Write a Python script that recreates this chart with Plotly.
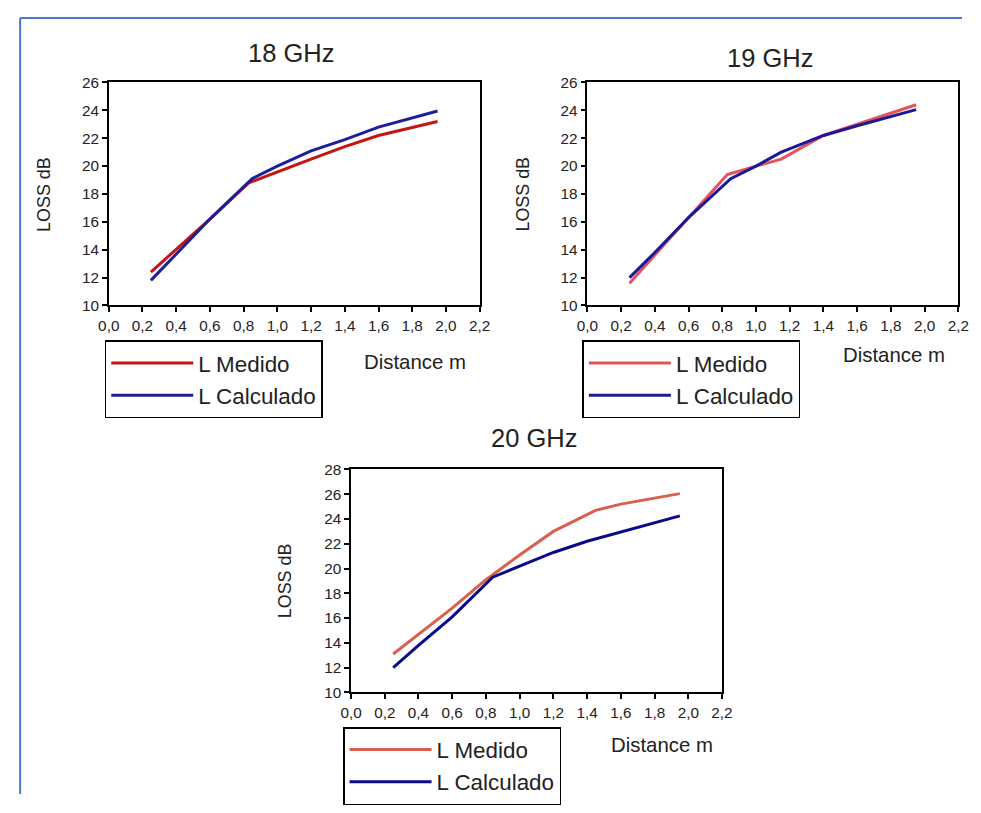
import plotly.graph_objects as go

# The photographed page maps paper pixels to screen pixels as
# screen = O + S * paper ; targets below are given in screen pixels.
OX, OY, SX, SY = 17.0, 16.5, 0.98, 0.975
W, H = 965, 797

# ---------------- data ----------------
x18_med = [0.25, 0.40, 0.60, 0.83, 1.00, 1.20, 1.40, 1.60, 1.95]
y18_med = [12.4, 14.0, 16.2, 18.8, 19.6, 20.5, 21.4, 22.2, 23.2]
x18_calc = [0.25, 0.40, 0.60, 0.85, 1.00, 1.20, 1.40, 1.60, 1.95]
y18_calc = [11.8, 13.7, 16.2, 19.1, 20.0, 21.1, 21.9, 22.8, 23.95]

x19_med = [0.25, 0.40, 0.60, 0.83, 1.00, 1.15, 1.40, 1.60, 1.95]
y19_med = [11.6, 13.6, 16.3, 19.4, 20.0, 20.5, 22.2, 23.0, 24.4]
x19_calc = [0.25, 0.40, 0.60, 0.85, 1.00, 1.15, 1.40, 1.60, 1.95]
y19_calc = [12.0, 13.8, 16.3, 19.1, 20.0, 21.0, 22.2, 22.9, 24.05]

x20_med = [0.25, 0.40, 0.60, 0.80, 1.00, 1.20, 1.45, 1.60, 1.95]
y20_med = [13.1, 14.7, 16.8, 19.1, 21.1, 23.0, 24.7, 25.2, 26.05]
x20_calc = [0.25, 0.40, 0.60, 0.84, 1.00, 1.20, 1.40, 1.60, 1.95]
y20_calc = [12.0, 13.8, 16.1, 19.3, 20.2, 21.3, 22.2, 22.95, 24.25]

titles = ["18 GHz", "19 GHz", "20 GHz"]
series_names = ["L Medido", "L Calculado"]
x_title = "Distance m"
y_title = "LOSS dB"
y_ranges = [[10, 26], [10, 26], [10, 28]]
x_range = [0, 2.2]

# ---------------- styles / layout ----------------
FONT = "Liberation Sans, Arial, sans-serif"
TXT = "#222222"
med_colors = ["#C41414", "#E4525C", "#D9604F"]
calc_colors = ["#1E1E9A", "#1A1A96", "#0A0A8C"]

# plot boxes in screen pixels: (left, right, top, bottom)
boxes = [(107, 479, 82, 305), (587, 959, 82, 305), (350, 722, 469, 692)]


def px(x):
    return ((x - OX) / SX) / W


def py(y):
    return 1 - ((y - OY) / SY) / H


def fs(v):
    return round(v / SX, 1)


data_sets = [
    (x18_med, y18_med, x18_calc, y18_calc),
    (x19_med, y19_med, x19_calc, y19_calc),
    (x20_med, y20_med, x20_calc, y20_calc),
]

fig = go.Figure()
layout = dict(
    width=W, height=H,
    margin=dict(l=0, r=0, t=0, b=0),
    paper_bgcolor="white", plot_bgcolor="white",
    separators=",.",
    font=dict(family=FONT, color=TXT),
    annotations=[], shapes=[],
)

legend_boxes = [(103, 340), (582, 340), (342, 727)]
dist_pos = [(414, 362), (895, 355), (662, 745)]
title_pos = [(290, 53), (770, 58), (533, 438)]
ytitle_x = [42, 522, 284]

for i, (xm, ym, xc, yc) in enumerate(data_sets):
    n = "" if i == 0 else str(i + 1)
    leg = "legend" if i == 0 else f"legend{i + 1}"
    fig.add_trace(go.Scatter(
        x=xm, y=ym, mode="lines", name=series_names[0],
        line=dict(color=med_colors[i], width=3),
        xaxis=f"x{n}", yaxis=f"y{n}", legend=leg))
    fig.add_trace(go.Scatter(
        x=xc, y=yc, mode="lines", name=series_names[1],
        line=dict(color=calc_colors[i], width=3),
        xaxis=f"x{n}", yaxis=f"y{n}", legend=leg))

    l, r, t, b = boxes[i]
    layout[f"xaxis{n}"] = dict(
        domain=[px(l), px(r)], anchor=f"y{n}", range=x_range,
        dtick=0.2, tick0=0, tickformat=".1f",
        ticks="outside", ticklen=5, tickwidth=1.5, tickcolor="black",
        showline=True, linecolor="black", linewidth=1.5, mirror=True,
        showgrid=False, zeroline=False,
        tickfont=dict(size=fs(15), family=FONT, color=TXT),
    )
    layout[f"yaxis{n}"] = dict(
        domain=[py(b), py(t)], anchor=f"x{n}", range=y_ranges[i],
        dtick=2, tick0=10,
        ticks="outside", ticklen=5, tickwidth=1.5, tickcolor="black",
        showline=True, linecolor="black", linewidth=1.5, mirror=True,
        showgrid=False, zeroline=False,
        tickfont=dict(size=fs(15), family=FONT, color=TXT),
    )
    lx, ly = legend_boxes[i]
    layout[leg] = dict(
        x=px(lx), y=py(ly), xanchor="left", yanchor="top",
        bordercolor="black", borderwidth=1.5, bgcolor="white",
        font=dict(size=fs(22), family=FONT, color=TXT),
        itemwidth=82, tracegroupgap=0,
    )
    tx, ty = title_pos[i]
    layout["annotations"].append(dict(
        text=titles[i], x=px(tx), y=py(ty), xref="paper", yref="paper",
        xanchor="center", yanchor="middle",
        showarrow=False, font=dict(size=fs(25), family=FONT, color=TXT)))
    dx, dy = dist_pos[i]
    layout["annotations"].append(dict(
        text=x_title, x=px(dx), y=py(dy), xref="paper", yref="paper",
        xanchor="center", yanchor="middle",
        showarrow=False, font=dict(size=fs(20), family=FONT, color=TXT)))
    layout["annotations"].append(dict(
        text=y_title, x=px(ytitle_x[i]), y=py((t + b) / 2),
        xref="paper", yref="paper", textangle=-90,
        xanchor="center", yanchor="middle",
        showarrow=False, font=dict(size=fs(17.5), family=FONT, color=TXT)))

# outer frame lines (left and top edges of the figure border)
layout["shapes"].append(dict(type="line", xref="paper", yref="paper",
                             x0=0.0012, x1=0.0012, y0=0, y1=0.9988,
                             line=dict(color="#4A78D0", width=2)))
layout["shapes"].append(dict(type="line", xref="paper", yref="paper",
                             x0=0.0012, x1=1, y0=0.9988, y1=0.9988,
                             line=dict(color="#4A78D0", width=2)))

fig.update_layout(**layout)
fig.write_html("out.html")
